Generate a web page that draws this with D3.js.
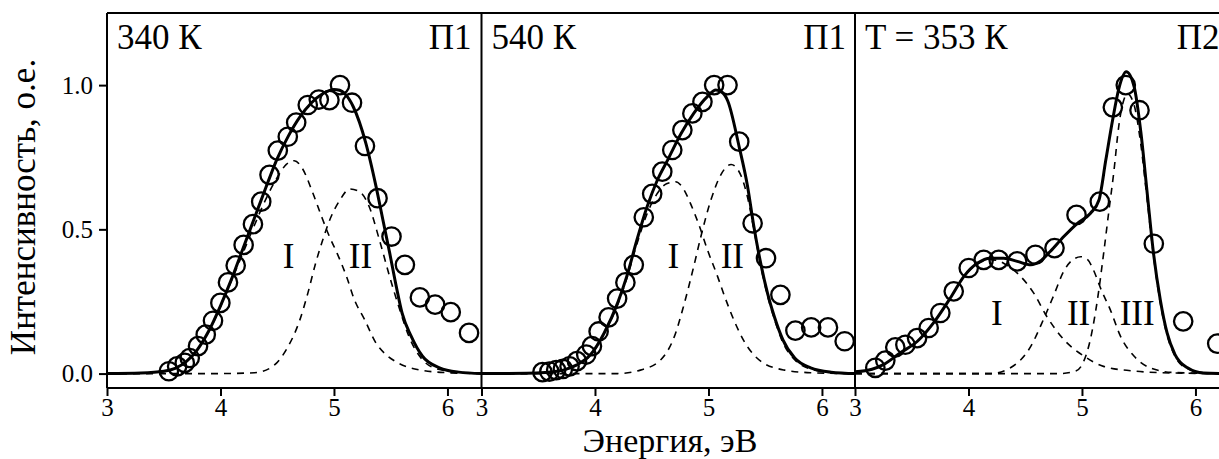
<!DOCTYPE html>
<html>
<head>
<meta charset="utf-8">
<script src="https://cdn.jsdelivr.net/npm/d3@7"></script>
<style>
  body { margin: 0; background: #fff; }
  svg { display: block; font-family: "Liberation Serif", "Times New Roman", serif; }
  svg text { font-family: "Liberation Serif", "Times New Roman", serif !important; fill: #000; }
</style>
</head>
<body>
<svg id="chart" width="1219" height="459"></svg>
<script>
// ---- data ----
const energyTicks = [3, 4, 5, 6];
const intensityTicks = [0, 0.5, 1.0];
const panelTitles = ["340 К", "540 К", "T = 353 К"];
const panelTags = ["П1", "П1", "П2"];
const bandNames = ["I", "II", "III"];
const xAxisTitle = "Энергия, эВ";
const yAxisTitle = "Интенсивность, о.е.";

// Panel 1 (340 K, П1): measured points [energy, intensity]
const p1Measured = [[3.545,0.008],[3.618,0.025],[3.685,0.037],[3.729,0.054],[3.802,0.095],[3.870,0.135],[3.934,0.183],[3.999,0.245],[4.066,0.316],[4.134,0.375],[4.204,0.446],[4.286,0.518],[4.359,0.596],[4.432,0.689],[4.505,0.773],[4.593,0.821],[4.667,0.870],[4.769,0.931],[4.866,0.950],[4.960,0.948],[5.053,1.0],[5.159,0.939],[5.273,0.789],[5.384,0.608],[5.507,0.475],[5.625,0.377],[5.757,0.264],[5.891,0.239],[6.029,0.213],[6.190,0.141]];
const p1Fit = [[3.0,0],[3.3,0.002],[3.5,0.008],[3.6,0.018],[3.7,0.042],[3.8,0.085],[3.9,0.15],[4.0,0.235],[4.1,0.33],[4.2,0.435],[4.3,0.54],[4.4,0.645],[4.5,0.745],[4.6,0.825],[4.7,0.89],[4.8,0.938],[4.9,0.97],[5.0,0.985],[5.05,0.982],[5.1,0.968],[5.17,0.925],[5.28,0.80],[5.37,0.65],[5.43,0.535],[5.49,0.42],[5.55,0.30],[5.6,0.21],[5.68,0.13],[5.78,0.06],[5.93,0.02],[6.1,0.005],[6.3,0]];
const p1BandI = [[3.0,0],[3.4,0.003],[3.6,0.018],[3.8,0.085],[3.9,0.148],[4.0,0.232],[4.1,0.325],[4.2,0.42],[4.3,0.515],[4.4,0.605],[4.5,0.68],[4.58,0.725],[4.65,0.738],[4.72,0.712],[4.81,0.63],[4.89,0.545],[4.96,0.475],[5.03,0.415],[5.11,0.337],[5.18,0.256],[5.27,0.187],[5.37,0.106],[5.46,0.065],[5.55,0.04],[5.75,0.013],[6.0,0.003],[6.3,0]];
const p1BandII = [[3.0,0],[4.0,0],[4.3,0.003],[4.45,0.022],[4.58,0.083],[4.7,0.187],[4.77,0.279],[4.84,0.385],[4.9,0.462],[4.96,0.53],[5.05,0.6],[5.14,0.64],[5.22,0.632],[5.31,0.579],[5.4,0.464],[5.49,0.337],[5.58,0.221],[5.66,0.129],[5.78,0.048],[5.93,0.014],[6.16,0.003],[6.3,0]];

// Panel 2 (540 K, П1)
const p2Measured = [[3.537,0.005],[3.598,0.007],[3.658,0.012],[3.717,0.016],[3.776,0.025],[3.841,0.043],[3.923,0.066],[3.973,0.095],[4.032,0.146],[4.12,0.195],[4.195,0.26],[4.268,0.316],[4.342,0.377],[4.43,0.542],[4.504,0.623],[4.593,0.70],[4.681,0.775],[4.77,0.844],[4.858,0.902],[4.947,0.942],[5.05,1.0],[5.168,1.0],[5.271,0.804],[5.389,0.521],[5.507,0.40],[5.634,0.273],[5.766,0.149],[5.905,0.160],[6.053,0.160],[6.2,0.112]];
const p2Fit = [[3.0,0],[3.4,0.001],[3.56,0.004],[3.72,0.012],[3.84,0.03],[3.96,0.065],[4.08,0.14],[4.2,0.245],[4.28,0.337],[4.37,0.464],[4.46,0.579],[4.55,0.671],[4.64,0.74],[4.76,0.833],[4.87,0.902],[4.99,0.96],[5.065,0.983],[5.12,0.975],[5.17,0.945],[5.27,0.787],[5.345,0.648],[5.40,0.51],[5.46,0.383],[5.52,0.279],[5.58,0.198],[5.655,0.118],[5.76,0.054],[5.9,0.02],[6.08,0.005],[6.3,0]];
const p2BandI = [[3.0,0],[3.5,0.001],[3.72,0.012],[3.84,0.03],[3.96,0.063],[4.08,0.138],[4.2,0.24],[4.28,0.33],[4.37,0.45],[4.46,0.555],[4.55,0.625],[4.63,0.658],[4.71,0.665],[4.78,0.64],[4.84,0.591],[4.93,0.50],[4.99,0.43],[5.08,0.337],[5.14,0.27],[5.23,0.18],[5.32,0.108],[5.46,0.043],[5.67,0.012],[5.9,0.003],[6.3,0]];
const p2BandII = [[3.0,0],[4.2,0],[4.4,0.012],[4.58,0.048],[4.7,0.129],[4.78,0.233],[4.87,0.371],[4.93,0.47],[5.02,0.6],[5.11,0.69],[5.2,0.725],[5.29,0.683],[5.345,0.61],[5.40,0.5],[5.46,0.375],[5.52,0.27],[5.58,0.19],[5.655,0.108],[5.76,0.048],[5.9,0.016],[6.1,0.003],[6.3,0]];

// Panel 3 (T = 353 K, П2)
const p3Measured = [[3.179,0.020],[3.267,0.045],[3.355,0.091],[3.444,0.100],[3.547,0.123],[3.649,0.158],[3.752,0.210],[3.870,0.285],[4.002,0.366],[4.134,0.394],[4.266,0.394],[4.429,0.389],[4.590,0.412],[4.758,0.435],[4.952,0.550],[5.157,0.596],[5.272,0.923],[5.386,1.0],[5.507,0.913],[5.633,0.450],[5.892,0.181],[6.192,0.104]];
const p3Fit = [[3.0,0.006],[3.15,0.015],[3.25,0.031],[3.4,0.072],[3.55,0.112],[3.69,0.175],[3.84,0.262],[3.96,0.337],[4.08,0.383],[4.19,0.400],[4.31,0.400],[4.43,0.389],[4.55,0.377],[4.63,0.389],[4.72,0.423],[4.84,0.475],[4.96,0.521],[5.075,0.556],[5.15,0.602],[5.21,0.740],[5.27,0.879],[5.325,0.988],[5.39,1.046],[5.46,0.994],[5.52,0.833],[5.575,0.625],[5.63,0.418],[5.69,0.256],[5.75,0.141],[5.82,0.066],[5.93,0.020],[6.07,0.002],[6.3,0]];
const p3BandI = [[3.0,0.006],[3.15,0.015],[3.25,0.031],[3.4,0.072],[3.55,0.112],[3.69,0.175],[3.84,0.262],[3.96,0.337],[4.08,0.38],[4.19,0.395],[4.27,0.39],[4.35,0.372],[4.43,0.348],[4.575,0.279],[4.69,0.198],[4.84,0.118],[5.02,0.060],[5.19,0.025],[5.48,0.008],[5.8,0.002],[6.3,0]];
const p3BandII = [[3.0,0],[4.2,0],[4.37,0.02],[4.55,0.095],[4.66,0.187],[4.75,0.27],[4.84,0.355],[4.92,0.395],[4.99,0.405],[5.05,0.395],[5.10,0.36],[5.17,0.29],[5.25,0.221],[5.34,0.129],[5.46,0.06],[5.6,0.02],[5.8,0.004],[6.3,0]];
const p3BandIII = [[3.0,0],[4.8,0],[4.95,0.01],[5.016,0.043],[5.075,0.12],[5.134,0.25],[5.192,0.42],[5.236,0.56],[5.281,0.70],[5.325,0.86],[5.37,0.95],[5.40,0.97],[5.46,0.93],[5.52,0.79],[5.575,0.60],[5.633,0.40],[5.69,0.245],[5.75,0.133],[5.82,0.06],[5.93,0.017],[6.1,0.002],[6.3,0]];

// ---- layout ----
const W = 1219, H = 459;
const plotTop = 13, plotBottom = 388;
const panelX = [107, 481.5, 855];
const panelW = 374.5;
const xDomain = [3, 6.3];
const yDomain = [-0.05, 1.25];
const serif = '"Liberation Serif", "Times New Roman", serif';

const panels = [
  { measured: p1Measured, fit: p1Fit, bands: [p1BandI, p1BandII],
    labelAt: [[4.60, 0.365], [5.233, 0.365]] },
  { measured: p2Measured, fit: p2Fit, bands: [p2BandI, p2BandII],
    labelAt: [[4.69, 0.365], [5.21, 0.365]] },
  { measured: p3Measured, fit: p3Fit, bands: [p3BandI, p3BandII, p3BandIII],
    labelAt: [[4.25, 0.168], [4.97, 0.168], [5.486, 0.168]] }
];

const svg = d3.select("#chart");
const y = d3.scaleLinear().domain(yDomain).range([plotBottom, plotTop]);

function label(sel, size) {
  return sel.attr("font-family", serif).style("font-family", serif)
    .attr("font-size", size).attr("fill", "#000");
}

panels.forEach((p, i) => {
  const x0 = panelX[i];
  const x = d3.scaleLinear().domain(xDomain).range([x0, x0 + panelW]);

  svg.append("clipPath").attr("id", "clip" + i)
    .append("rect").attr("x", x0).attr("y", plotTop)
    .attr("width", panelW).attr("height", plotBottom - plotTop);

  const line = d3.line().x(d => x(d[0])).y(d => y(d[1])).curve(d3.curveMonotoneX);
  const g = svg.append("g");
  const curves = g.append("g").attr("clip-path", `url(#clip${i})`);

  // Gaussian band components (dashed)
  p.bands.forEach(b => {
    curves.append("path").datum(b).attr("d", line)
      .attr("fill", "none").attr("stroke", "#000")
      .attr("stroke-width", 1.6).attr("stroke-dasharray", "7,6");
  });

  // total fit (solid)
  curves.append("path").datum(p.fit).attr("d", line)
    .attr("fill", "none").attr("stroke", "#000").attr("stroke-width", 3);

  // measured spectrum (open circles)
  g.append("g").selectAll("circle").data(p.measured).join("circle")
    .attr("cx", d => x(d[0])).attr("cy", d => y(d[1])).attr("r", 9.2)
    .attr("fill", "none").attr("stroke", "#000").attr("stroke-width", 2.3);

  // band labels
  p.labelAt.forEach((pos, k) => {
    label(g.append("text"), 35).attr("x", x(pos[0])).attr("y", y(pos[1]))
      .attr("text-anchor", "middle").text(bandNames[k]);
  });

  // panel title and sample tag
  label(g.append("text"), 35).attr("x", x0 + 10).attr("y", 48.5).text(panelTitles[i]);
  label(g.append("text"), 35).attr("x", x0 + panelW - 10).attr("y", 48.5)
    .attr("text-anchor", "end").text(panelTags[i]);

  // bottom axis
  const ax = svg.append("g").attr("transform", `translate(0,${plotBottom})`)
    .call(d3.axisBottom(x).tickValues(energyTicks).tickFormat(d3.format("d"))
      .tickSize(8).tickPadding(2));
  ax.attr("font-family", serif);
  ax.select(".domain").remove();
  ax.selectAll("line").attr("stroke-width", 2);
  label(ax.selectAll("text"), 25);
});

// left axis
const ay = svg.append("g").attr("transform", `translate(${panelX[0]},0)`)
  .call(d3.axisLeft(y).tickValues(intensityTicks).tickFormat(d3.format(".1f"))
    .tickSize(8).tickPadding(6));
ay.attr("font-family", serif);
ay.select(".domain").remove();
ay.selectAll("line").attr("stroke-width", 2);
label(ay.selectAll("text"), 25);

// frame: top/bottom rules and panel separators
const frame = svg.append("g").attr("stroke", "#000").attr("stroke-width", 2);
frame.append("line").attr("x1", panelX[0]).attr("x2", W).attr("y1", plotTop).attr("y2", plotTop);
frame.append("line").attr("x1", panelX[0]).attr("x2", W).attr("y1", plotBottom).attr("y2", plotBottom);
panelX.forEach(px => {
  frame.append("line").attr("x1", px).attr("x2", px).attr("y1", plotTop).attr("y2", plotBottom);
});

// axis titles
label(svg.append("text"), 34).attr("x", 670).attr("y", 451.5)
  .attr("text-anchor", "middle").text(xAxisTitle);
label(svg.append("text"), 35).attr("transform", "translate(35,207) rotate(-90)")
  .attr("text-anchor", "middle").text(yAxisTitle);
</script>
</body>
</html>
